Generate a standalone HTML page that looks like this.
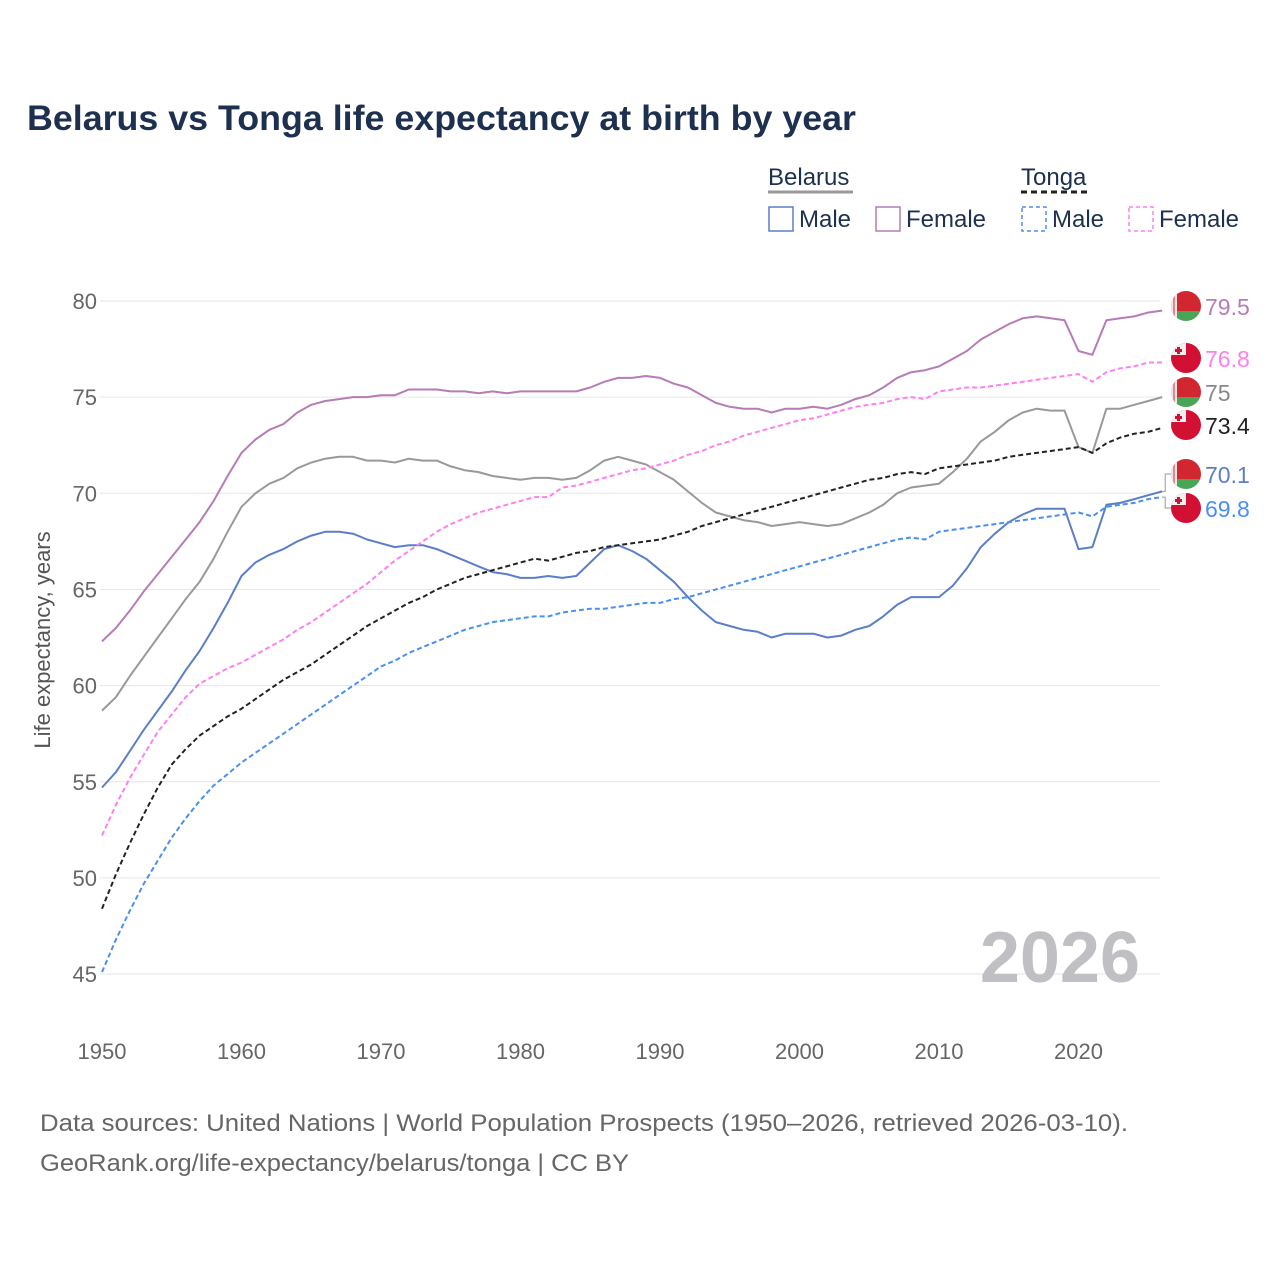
<!DOCTYPE html>
<html><head><meta charset="utf-8"><style>
body{margin:0;background:#fff;width:1280px;height:1280px;overflow:hidden;font-family:"Liberation Sans",sans-serif}
</style></head><body>
<svg id="chart" width="1280" height="1280" xmlns="http://www.w3.org/2000/svg" font-family="Liberation Sans, sans-serif">
<defs>
<clipPath id="fc"><circle cx="0" cy="0" r="15"/></clipPath>
</defs>
<text x="27" y="130" font-size="35" font-weight="bold" fill="#1d3050" textLength="829" lengthAdjust="spacingAndGlyphs">Belarus vs Tonga life expectancy at birth by year</text>
<g font-size="24" fill="#1d3050">
<text x="768" y="185">Belarus</text>
<line x1="768" y1="192" x2="853" y2="192" stroke="#999" stroke-width="3"/>
<text x="1021" y="185">Tonga</text>
<line x1="1021" y1="192" x2="1089" y2="192" stroke="#222" stroke-width="3" stroke-dasharray="6,4"/>
<g><rect x="769" y="207" width="24" height="24" fill="none" stroke="#5b7fc7" stroke-width="1.5"/><text x="799" y="227">Male</text></g>
<g><rect x="876" y="207" width="24" height="24" fill="none" stroke="#b57cb5" stroke-width="1.5"/><text x="906" y="227">Female</text></g>
<g><rect x="1022" y="207" width="24" height="24" fill="none" stroke="#4a90f0" stroke-width="1.5" stroke-dasharray="4,3"/><text x="1052" y="227">Male</text></g>
<g><rect x="1129" y="207" width="24" height="24" fill="none" stroke="#ff7fef" stroke-width="1.5" stroke-dasharray="4,3"/><text x="1159" y="227">Female</text></g>
</g>
<g id="grid"></g>
<g id="series"></g>
<g id="labels"></g>
<text transform="translate(50,640) rotate(-90)" text-anchor="middle" font-size="22" fill="#555">Life expectancy, years</text>
<text x="1140" y="982" text-anchor="end" font-size="72" font-weight="bold" fill="#bfbfc4">2026</text>
<text x="40" y="1131" font-size="24" fill="#666" textLength="1088" lengthAdjust="spacingAndGlyphs">Data sources: United Nations | World Population Prospects (1950–2026, retrieved 2026-03-10).</text>
<text x="40" y="1171" font-size="24" fill="#666" textLength="589" lengthAdjust="spacingAndGlyphs">GeoRank.org/life-expectancy/belarus/tonga | CC BY</text>
</svg>
<script>
const startYear = 1950;
const xTicks = [1950,1960,1970,1980,1990,2000,2010,2020];
const yTicks = [45,50,55,60,65,70,75,80];
const belarusFemale = [62.3,63,63.9,64.9,65.8,66.7,67.6,68.5,69.6,70.9,72.1,72.8,73.3,73.6,74.2,74.6,74.8,74.9,75.0,75.0,75.1,75.1,75.4,75.4,75.4,75.3,75.3,75.2,75.3,75.2,75.3,75.3,75.3,75.3,75.3,75.5,75.8,76.0,76.0,76.1,76.0,75.7,75.5,75.1,74.7,74.5,74.4,74.4,74.2,74.4,74.4,74.5,74.4,74.6,74.9,75.1,75.5,76.0,76.3,76.4,76.6,77.0,77.4,78.0,78.4,78.8,79.1,79.2,79.1,79.0,77.4,77.2,79.0,79.1,79.2,79.4,79.5];
const belarusTotal = [58.7,59.4,60.5,61.5,62.5,63.5,64.5,65.4,66.6,68.0,69.3,70.0,70.5,70.8,71.3,71.6,71.8,71.9,71.9,71.7,71.7,71.6,71.8,71.7,71.7,71.4,71.2,71.1,70.9,70.8,70.7,70.8,70.8,70.7,70.8,71.2,71.7,71.9,71.7,71.5,71.1,70.7,70.1,69.5,69.0,68.8,68.6,68.5,68.3,68.4,68.5,68.4,68.3,68.4,68.7,69.0,69.4,70.0,70.3,70.4,70.5,71.1,71.8,72.7,73.2,73.8,74.2,74.4,74.3,74.3,72.4,72.1,74.4,74.4,74.6,74.8,75.0];
const belarusMale = [54.7,55.5,56.6,57.7,58.7,59.7,60.8,61.8,63.0,64.3,65.7,66.4,66.8,67.1,67.5,67.8,68.0,68.0,67.9,67.6,67.4,67.2,67.3,67.3,67.1,66.8,66.5,66.2,65.9,65.8,65.6,65.6,65.7,65.6,65.7,66.4,67.1,67.3,67.0,66.6,66.0,65.4,64.6,63.9,63.3,63.1,62.9,62.8,62.5,62.7,62.7,62.7,62.5,62.6,62.9,63.1,63.6,64.2,64.6,64.6,64.6,65.2,66.1,67.2,67.9,68.5,68.9,69.2,69.2,69.2,67.1,67.2,69.4,69.5,69.7,69.9,70.1];
const tongaTotal = [48.4,50.2,51.8,53.3,54.7,55.9,56.7,57.4,57.9,58.4,58.8,59.3,59.8,60.3,60.7,61.1,61.6,62.1,62.6,63.1,63.5,63.9,64.3,64.6,65.0,65.3,65.6,65.8,66.0,66.2,66.4,66.6,66.5,66.7,66.9,67.0,67.2,67.3,67.4,67.5,67.6,67.8,68.0,68.3,68.5,68.7,68.9,69.1,69.3,69.5,69.7,69.9,70.1,70.3,70.5,70.7,70.8,71.0,71.1,71.0,71.3,71.4,71.5,71.6,71.7,71.9,72.0,72.1,72.2,72.3,72.4,72.1,72.6,72.9,73.1,73.2,73.4];
const tongaFemale = [52.2,53.8,55.2,56.4,57.6,58.5,59.4,60.1,60.5,60.9,61.2,61.6,62.0,62.4,62.9,63.3,63.8,64.3,64.8,65.3,65.9,66.5,67.0,67.5,68.0,68.4,68.7,69.0,69.2,69.4,69.6,69.8,69.8,70.3,70.4,70.6,70.8,71.0,71.2,71.3,71.5,71.7,72.0,72.2,72.5,72.7,73.0,73.2,73.4,73.6,73.8,73.9,74.1,74.3,74.5,74.6,74.7,74.9,75.0,74.9,75.3,75.4,75.5,75.5,75.6,75.7,75.8,75.9,76.0,76.1,76.2,75.8,76.3,76.5,76.6,76.8,76.8];
const tongaMale = [45.1,46.8,48.3,49.7,50.9,52.1,53.1,54.0,54.8,55.4,56.0,56.5,57.0,57.5,58.0,58.5,59.0,59.5,60.0,60.5,61.0,61.3,61.7,62.0,62.3,62.6,62.9,63.1,63.3,63.4,63.5,63.6,63.6,63.8,63.9,64.0,64.0,64.1,64.2,64.3,64.3,64.5,64.6,64.8,65.0,65.2,65.4,65.6,65.8,66.0,66.2,66.4,66.6,66.8,67.0,67.2,67.4,67.6,67.7,67.6,68.0,68.1,68.2,68.3,68.4,68.5,68.6,68.7,68.8,68.9,69.0,68.8,69.3,69.4,69.5,69.7,69.8];
const endLabels = ["79.5","76.8","75","73.4","70.1","69.8"];

const NS="http://www.w3.org/2000/svg";
const x = yr => 102 + (yr-1950)*13.95;
const y = v => 301 + (80-v)*19.23;
function mk(tag, attrs, parent){const e=document.createElementNS(NS,tag);for(const k in attrs)e.setAttribute(k,attrs[k]);parent.appendChild(e);return e;}
const grid=document.getElementById('grid');
yTicks.forEach(t=>{
  const l=mk('line',{x1:100,x2:1160,y1:y(t),y2:y(t),stroke:'#e6e6e6','stroke-width':1},grid);
  
  
  const tx=mk('text',{x:97,y:y(t)+8,'text-anchor':'end','font-size':22,fill:'#666'},grid);
  tx.textContent=t;
  
  
});
xTicks.forEach(t=>{
  const tx=mk('text',{x:x(t),y:1059,'text-anchor':'middle','font-size':22,fill:'#666'},grid);
  tx.textContent=t;
  
  
});
const series=[
 {d:belarusFemale,c:'#b57cb5',dash:null,n:'belarus-female'},
 {d:belarusTotal,c:'#999',dash:null,n:'belarus-total'},
 {d:belarusMale,c:'#5b7fc7',dash:null,n:'belarus-male'},
 {d:tongaFemale,c:'#ff7fef',dash:'5,3',n:'tonga-female'},
 {d:tongaTotal,c:'#222',dash:'5,3',n:'tonga-total'},
 {d:tongaMale,c:'#4a90f0',dash:'5,3',n:'tonga-male'}
];
const sg=document.getElementById('series');
series.forEach(s=>{
  const pts=s.d.map((v,i)=>x(startYear+i).toFixed(1)+','+y(v).toFixed(1)).join(' ');
  const a={points:pts,fill:'none',stroke:s.c,'stroke-width':2,'stroke-linejoin':'round'};
  if(s.dash)a['stroke-dasharray']=s.dash;
  const p=mk('polyline',a,sg);
  
  
});
const lg=document.getElementById('labels');
const labelY=[308,360,394,427,476,510];
const ord=[{s:0,c:'#b57cb5',f:'by'},{s:3,c:'#ff7fef',f:'to'},{s:1,c:'#888',f:'by'},{s:4,c:'#222',f:'to'},{s:2,c:'#5b7fc7',f:'by'},{s:5,c:'#4a90f0',f:'to'}];
ord.forEach((o,i)=>{
  const ly=labelY[i]-2;
  const last=series[o.s].d[series[o.s].d.length-1];
  const lx=x(2026), vy=y(last);
  if(Math.abs(vy-ly)>10){
    const pl=mk('polyline',{points:`${lx},${vy} ${lx+3},${vy} ${lx+3},${ly} ${lx+10},${ly}`,fill:'none',stroke:'#999','stroke-width':1},lg);
    
    
  }
  const g=mk('g',{transform:`translate(1186,${ly})`},lg);
  
  
  const c=mk('g',{'clip-path':'url(#fc)'},g);
  if(o.f==='by'){
    mk('rect',{x:-15,y:-15,width:30,height:20,fill:'#d22730'},c);
    mk('rect',{x:-15,y:5,width:30,height:10,fill:'#4aa657'},c);
    mk('rect',{x:-15,y:-15,width:6,height:30,fill:'#f0e8e8'},c);
    mk('rect',{x:-13,y:-15,width:2,height:30,fill:'#d22730',opacity:0.5},c);
  } else {
    mk('rect',{x:-15,y:-15,width:30,height:30,fill:'#d21034'},c);
    mk('rect',{x:-15,y:-15,width:15,height:12,fill:'#f0f0f0'},c);
    mk('rect',{x:-9,y:-11,width:3,height:7,fill:'#d21034'},c);
    mk('rect',{x:-11,y:-9,width:7,height:3,fill:'#d21034'},c);
  }
  const t=mk('text',{x:1205,y:ly+9,'font-size':23,fill:o.c},lg);
  t.textContent=endLabels[i];
  
  
});
</script>
</body></html>
